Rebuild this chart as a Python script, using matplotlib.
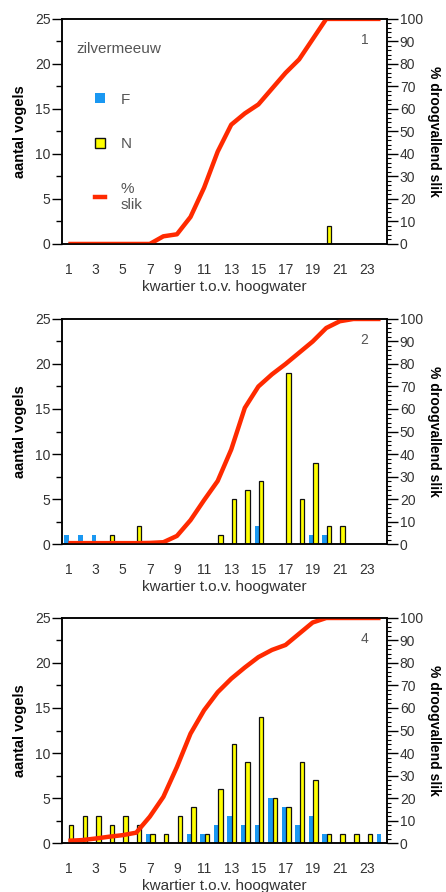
import matplotlib
matplotlib.use("Agg")
import matplotlib.pyplot as plt
from matplotlib.patches import Patch
from matplotlib.lines import Line2D
import numpy as np

plt.rcParams["font.family"] = ["Liberation Sans", "DejaVu Sans"]
plt.rcParams["font.size"] = 10

# kwartier t.o.v. hoogwater
kwartier = np.arange(1, 25)
tick_labels = [str(k) for k in range(1, 24, 2)]

# panel 1
f_1 = [0] * 24
n_1 = [0] * 19 + [2] + [0] * 4
slik_1 = [0, 0, 0, 0, 0, 0, 0, 3.4, 4.3, 12, 25, 41, 53, 58, 62, 69, 76, 82,
          91, 100, 100, 100, 100, 100]

# panel 2
f_2 = [1, 1, 1, 0, 0, 0, 0, 0, 0, 0, 0, 0, 0, 0, 2, 0, 0, 0, 1, 1, 0, 0, 0, 0]
n_2 = [0, 0, 0, 1, 0, 2, 0, 0, 0, 0, 0, 1, 5, 6, 7, 0, 19, 5, 9, 2, 2, 0, 0, 0]
slik_2 = [0.4, 0.4, 0.4, 0.4, 0.4, 0.4, 0.5, 0.8, 3.6, 10.6, 19.5, 28, 42,
          60.5, 70, 75.4, 80, 85, 90, 96, 99, 100, 100, 100]

# panel 4
f_4 = [0, 0, 0, 0, 0, 0, 1, 0, 0, 1, 1, 2, 3, 2, 2, 5, 4, 2, 3, 1, 0, 0, 0, 1]
n_4 = [2, 3, 3, 2, 3, 2, 1, 1, 3, 4, 1, 6, 11, 9, 14, 5, 4, 9, 7, 1, 1, 1, 1, 0]
slik_4 = [1, 1.3, 2, 2.8, 3.5, 4.6, 11.7, 20.5, 33.8, 48.6, 59, 67, 73, 78,
          82.6, 85.8, 88, 93, 98, 100, 100, 100, 100, 100]

panels = [("1", f_1, n_1, slik_1), ("2", f_2, n_2, slik_2), ("4", f_4, n_4, slik_4)]

blue = "#1a98f2"
yellow = "#ffff00"
red = "#ff2a00"
grey = "#333333"

fig = plt.figure(figsize=(4.46, 8.92), dpi=100)
bottoms = [0.7265, 0.3901, 0.0549]


def plot_panel(rect, nummer, f, n, slik, legend=False):
    ax = fig.add_axes(rect)
    w = 0.33
    ax.bar(kwartier - 0.12, f, width=w, color=blue, linewidth=0)
    ax.bar(kwartier + 0.21, n, width=w, color=yellow, edgecolor="#111111",
           linewidth=0.9)
    ax.set_xlim(0.55, 24.5)
    ax.set_ylim(0, 25)
    ax.set_yticks(range(0, 26, 5))
    ax.set_yticks(np.arange(2.5, 25, 5), minor=True)
    ax.set_xticks(range(1, 24, 2))
    ax.set_xticklabels(tick_labels)
    ax.tick_params(axis="x", length=0, pad=13.5, colors=grey)
    ax.tick_params(axis="y", which="major", length=7, width=1, pad=1.5,
                   labelcolor=grey)
    ax.tick_params(axis="y", which="minor", length=4, width=1)
    ax.set_xlabel("kwartier t.o.v. hoogwater", color=grey, fontsize=11,
                  labelpad=2.5)
    ax.set_ylabel("aantal vogels", fontweight="bold", fontsize=10.5,
                  labelpad=5.5)
    for s in ax.spines.values():
        s.set_linewidth(1.1)

    # percentage droogvallend slik on the right axis
    ax2 = ax.twinx()
    ax2.plot(kwartier, slik, color=red, linewidth=3.2, solid_joinstyle="round",
             solid_capstyle="butt")
    ax2.set_ylim(0, 100)
    ax2.set_yticks(range(0, 101, 10))
    ax2.set_yticks(range(0, 101, 2), minor=True)
    ax2.tick_params(axis="y", which="major", length=8, width=1, pad=1,
                    labelcolor=grey)
    ax2.tick_params(axis="y", which="minor", length=3, width=0.8)
    ax2.set_ylabel("% droogvallend slik", fontweight="bold", fontsize=10,
                   rotation=270, labelpad=13)
    for s in ax2.spines.values():
        s.set_linewidth(1.1)

    ax2.text(0.93, 0.905, nummer, transform=ax.transAxes, color="#555555",
             ha="center", va="center", fontsize=10)

    if legend:
        ax2.text(0.043, 0.867, "zilvermeeuw", transform=ax.transAxes,
                 color="#555555", ha="left", va="center", fontsize=11)
        handles = [Patch(facecolor=blue, edgecolor="none"),
                   Patch(facecolor=yellow, edgecolor="#111111", linewidth=1),
                   Line2D([0], [0], color=red, linewidth=3.2)]
        ax2.legend(handles, ["F", "N", "%\nslik"], loc="upper left",
                   bbox_to_anchor=(0.10, 0.672), frameon=False, fontsize=11,
                   handlelength=0.7, handleheight=0.65, handletextpad=1.0,
                   labelspacing=2.0, labelcolor="#555555", borderpad=0,
                   borderaxespad=0)
    return ax, ax2


for (nummer, f, n, slik), b in zip(panels, bottoms):
    plot_panel([0.1395, b, 0.729, 0.2523], nummer, f, n, slik, legend=(nummer == "1"))

fig.savefig("out.png", dpi=100)
